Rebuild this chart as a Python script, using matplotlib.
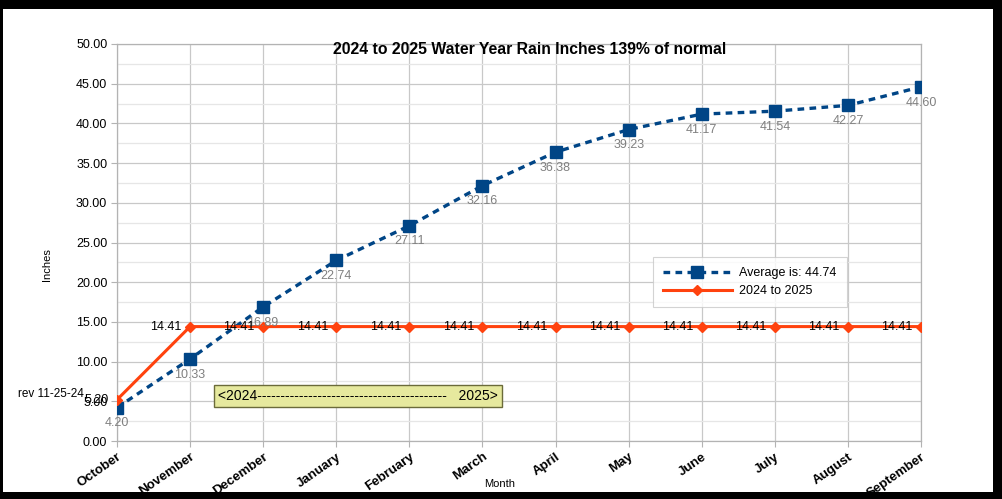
import matplotlib
matplotlib.use("Agg")
import matplotlib.pyplot as plt
from matplotlib.patches import Rectangle

months = ["October", "November", "December", "January", "February", "March",
          "April", "May", "June", "July", "August", "September"]
average = [4.20, 10.33, 16.89, 22.74, 27.11, 32.16, 36.38, 39.23, 41.17, 41.54, 42.27, 44.60]
current = [5.20, 14.41, 14.41, 14.41, 14.41, 14.41, 14.41, 14.41, 14.41, 14.41, 14.41, 14.41]
yticks = [0, 5, 10, 15, 20, 25, 30, 35, 40, 45, 50]

plt.rcParams['font.family'] = ['Liberation Sans', 'DejaVu Sans']

fig = plt.figure(figsize=(10.02, 4.99), dpi=100)
ax = fig.add_axes([117/1002, 1-441/499, (921-117)/1002, (441-44)/499])

x = list(range(len(months)))
blue = "#004586"
orange = "#ff420e"

ax.plot(x, average, color=blue, linestyle=(0, (2.0, 1.6)), linewidth=2.4,
        marker="s", markersize=8, label="Average is: 44.74", zorder=3)
ax.plot(x, current, color=orange, linestyle="-", linewidth=2.2,
        marker="D", markersize=5, label="2024 to 2025", zorder=4)

for xi, v in zip(x, average):
    ax.annotate(f"{v:.2f}", (xi, v), xytext=(0, -7), textcoords="offset points",
                ha="center", va="top", fontsize=9, color="#808080", zorder=5)
for xi, v in zip(x, current):
    ax.annotate(f"{v:.2f}", (xi, v), xytext=(-6, 0), textcoords="offset points",
                ha="right", va="center", fontsize=9, color="black", zorder=5)

ax.set_xlim(0, len(months) - 1)
ax.set_ylim(0, 50)
ax.set_yticks(yticks)
ax.set_yticklabels([f"{t:.2f}" for t in yticks], fontsize=9)
ax.set_yticks([t + 2.5 for t in yticks[:-1]], minor=True)
ax.set_xticks(x)
ax.set_xticklabels(months, rotation=35, ha="right", rotation_mode="anchor",
                   fontsize=9.5, fontweight="bold")
ax.tick_params(axis="both", which="major", length=4, color="#b3b3b3", pad=3)
ax.tick_params(axis="y", which="minor", length=0)
ax.grid(True, which="major", color="#c8c8c8", linewidth=0.9)
ax.grid(True, which="minor", axis="y", color="#e6e6e6", linewidth=0.9)
ax.set_axisbelow(True)
for s in ax.spines.values():
    s.set_color("#b3b3b3")
    s.set_linewidth(0.9)

fig.text(500/1002, 1-484/499, "Month", ha="center", va="center", fontsize=8)
fig.text(47/1002, 1-265/499, "Inches", ha="center", va="center", fontsize=8, rotation=90)

fig.text(530/1002, 1-49/499, "2024 to 2025 Water Year Rain Inches 139% of normal",
         ha="center", va="center", fontsize=11.3, fontweight="bold")
fig.text(18/1002, 1-394/499, "rev 11-25-24", ha="left", va="center", fontsize=8.5)

fig.text(218/1002, 1-396/499, "<2024-----------------------------------------   2025>",
         ha="left", va="center", fontsize=10,
         bbox=dict(boxstyle="square,pad=0.3", facecolor="#e6e99e", edgecolor="#6b6b3a", linewidth=1))

leg = ax.legend(loc="upper left", bbox_to_anchor=((653-117)/804, (441-257)/397),
                borderaxespad=0,
                fontsize=9, frameon=True, fancybox=False, edgecolor="#c8c8c8",
                handlelength=5.5, borderpad=0.8, labelspacing=0.5, handletextpad=0.6)
leg.get_frame().set_linewidth(0.8)

# black frame around the picture
frame = [(0, 0, 3, 499), (0, 0, 1002, 9), (993, 0, 9, 499), (0, 492, 1002, 7)]
for (px, py, pw, ph) in frame:
    fig.patches.append(Rectangle((px/1002, 1-(py+ph)/499), pw/1002, ph/499,
                                 transform=fig.transFigure, facecolor="black",
                                 edgecolor="none", zorder=10))

fig.savefig("out.png", dpi=100)
